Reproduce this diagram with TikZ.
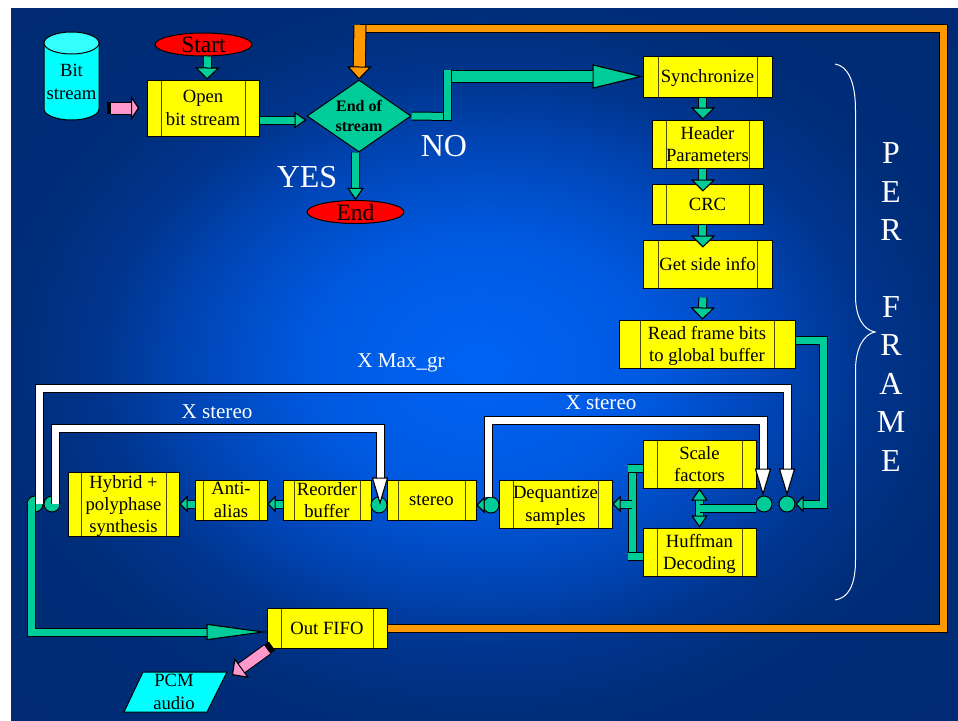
\documentclass[tikz,border=0pt]{standalone}
\usepackage{fontspec}
\setmainfont{Liberation Serif}
\usetikzlibrary{shapes.geometric,arrows.meta,positioning,calc}
\definecolor{flowgreen}{RGB}{0,204,153}
\definecolor{loopgold}{RGB}{255,153,0}
\definecolor{iopink}{RGB}{255,153,204}
\definecolor{boxyellow}{RGB}{255,255,0}
\definecolor{termred}{RGB}{255,0,0}
\definecolor{datacyan}{RGB}{0,255,255}
\definecolor{datatop}{RGB}{51,255,255}
\pgfdeclareradialshading{slideblue}{\pgfpoint{-0.25bp}{0bp}}{
  rgb(0bp)=(0,0.39,0.96);
  rgb(9bp)=(0,0.35,0.88);
  rgb(15.5bp)=(0,0.27,0.71);
  rgb(20bp)=(0,0.21,0.56);
  rgb(25bp)=(0,0.175,0.47);
  rgb(50bp)=(0,0.16,0.43)}
\newcommand{\boxfont}{\fontsize{14}{16.8}\selectfont}
\newcommand{\bigfont}{\fontsize{24}{28.8}\selectfont}

\begin{document}
\begin{tikzpicture}[
  x=0.75pt, y=-0.75pt,
  font=\boxfont,
  procbox/.style 2 args={rectangle, draw=black, line width=0.75pt, fill=boxyellow, inner sep=0pt, align=center, text depth=-2pt, minimum width=#1*0.75pt, minimum height=#2*0.75pt,
    path picture={\draw[black!70!boxyellow, line width=0.75pt]
      ([xshift=\boxinset]path picture bounding box.north west) -- ([xshift=\boxinset]path picture bounding box.south west)
      ([xshift=-\boxinset]path picture bounding box.north east) -- ([xshift=-\boxinset]path picture bounding box.south east);}},
  inset/.code={\def\boxinset{#1*0.75pt}},
  inset=14,
  endpoint/.style={ellipse, draw=black, line width=0.75pt, fill=termred, inner sep=0pt, text depth=-1pt, minimum width=97*0.75pt, minimum height=23*0.75pt, font=\fontsize{17.6}{20}\selectfont},
  decision/.style={diamond, draw=black, line width=0.75pt, fill=flowgreen, inner sep=0pt, aspect=1.44, minimum width=104*0.75pt, minimum height=72*0.75pt, align=center, font=\fontsize{12}{15}\selectfont\bfseries},
  junction/.style={circle, draw=black, line width=0.75pt, fill=flowgreen, inner sep=0pt, minimum size=16*0.75pt},
  note/.style={text=white, font=\fontsize{15.8}{19}\selectfont},
  bignote/.style={text=white, font=\bigfont},
  fatbar/.style n args={2}{draw=#2, line width=#1*0.75pt-0.75pt, line join=miter, preaction={draw=black, line width=#1*0.75pt+0.75pt}},
  fatarrow/.style n args={4}{fatbar={#1}{#2},
    -{Triangle[width=#3*0.75pt, length=#4*0.75pt, line width=0.75pt, color=black, fill=#2, sep=0pt]}},
  greenbar/.style={fatbar={8}{flowgreen}},
  greenarrow/.style={fatarrow={8}{flowgreen}{24}{12}},
  narrowarrow/.style={fatarrow={8}{flowgreen}{16}{12}},
  stubarrow/.style={fatarrow={8}{flowgreen}{16}{8}},
  longgreen/.style={fatarrow={12}{flowgreen}{24}{50}},
  slimgreen/.style={fatarrow={8}{flowgreen}{16}{60}},
  twoway/.style={fatbar={8}{flowgreen},
    {Triangle[width=12pt, length=9pt, line width=0.75pt, color=black, fill=flowgreen, sep=0pt]}-{Triangle[width=12pt, length=9pt, line width=0.75pt, color=black, fill=flowgreen, sep=0pt]}},
  whiteloop/.style={fatarrow={8}{white}{16}{27}},
  goldbar/.style={fatbar={8}{loopgold}},
  goldarrow/.style={fatarrow={12}{loopgold}{24}{13}},
  pinkarrow/.style={fatarrow={12}{iopink}{24}{8}},
  pinkslant/.style={fatarrow={11}{iopink}{24}{12}},
  pinktail/.style={draw=black, line width=12*0.75pt},
  storeface/.style={draw=black, line width=0.75pt},
]

\useasboundingbox (0,0) rectangle (958,721);
\fill[white] (0,0) rectangle (958,721);
\shade[shading=slideblue] (11,8) rectangle (958,721);

% input side
\draw[storeface, fill=datacyan] (44,43) -- (44,109) arc[start angle=180, end angle=0, x radius=27.5, y radius=11] -- (99,43) -- cycle;
\draw[storeface, fill=datatop] (71.5,43) ellipse [x radius=27.5, y radius=11];
\node[inner sep=0pt, align=center] (bits) at (71.5,82) {Bit\\stream};
\node[endpoint] (start) at (203.5,44.5) {Start};
\node[procbox={112}{56}] (open) at (203,108) {Open\\bit stream};
\node[decision] (eos) at (359,116) {End of\\stream};
\node[endpoint] (stop) at (355.5,212) {End};
\node[bignote] (no) at (444,146) {NO};
\node[bignote] (yes) at (307,177) {YES};

% per frame column
\node[procbox={129}{41}, inset=15] (sync) at (707.5,76.5) {Synchronize};
\node[procbox={111}{48}] (head) at (707.5,144) {Header\\Parameters};
\node[procbox={111}{40}] (crc) at (707.5,204) {CRC};
\node[procbox={129}{48}, inset=15] (side) at (707.5,264) {Get side info};
\node[procbox={176}{48}, inset=21] (read) at (707,344) {Read frame bits\\to global buffer};

% decode row
\node[procbox={113}{48}] (scale) at (699.5,464) {Scale\\factors};
\node[procbox={113}{48}] (huff) at (699.5,552) {Huffman\\Decoding};
\node[procbox={113}{48}] (deq) at (555.5,504) {Dequantize\\samples};
\node[procbox={89}{40}, inset=11] (stereo) at (431.5,500) {stereo};
\node[procbox={88}{40}, inset=11] (reorder) at (327,500) {Reorder\\buffer};
\node[procbox={72}{40}, inset=8] (anti) at (231,500) {Anti-\\alias};
\node[procbox={111}{64}, inset=13] (hybrid) at (123.5,504) {Hybrid +\\polyphase\\synthesis};
\node[procbox={120}{40}] (fifo) at (327,628) {Out FIFO};

\node[junction] (gr-in) at (787,504) {};
\node[junction] (ch-in) at (764,504) {};
\node[junction] (ch-out) at (491,505) {};
\node[junction] (st-out) at (379,505) {};
\node[junction] (ch-end) at (52,504) {};
\node[junction] (gr-end) at (35,504) {};

\node[note] (maxgr) at (401,363) {X Max\_gr};
\node[note] (left-st) at (217,412) {X stereo};
\node[note] (right-st) at (601,403) {X stereo};
\node[bignote, align=center] (perframe) at (891,307) {P\\E\\R\\~\\F\\R\\A\\M\\E};

% free ends of the connectors
\coordinate (bits-out) at (107,108);
\coordinate (bits-tail) at (111,108);
\coordinate (open-in) at (139,108);
\coordinate (eos-turn) at (452,116.5);
\coordinate (eos-low) at (447.5,120);
\coordinate (eos-up) at (447.5,70);
\coordinate (sync-run) at (443,76.5);
\coordinate (read-down) at (823,420);
\coordinate (loop-right) at (943.5,28.5);
\coordinate (loop-left) at (360,25);
\coordinate (dec-mid) at (632,504);
\coordinate (dec-top) at (632,464);
\coordinate (dec-low) at (632,560);
\coordinate (dec-tstub) at (628,468);
\coordinate (dec-lstub) at (628,556);
\coordinate (both-mid) at (699.5,508);
\coordinate (maxgr-top) at (400,388.5);
\coordinate (left-top) at (217,428);
\coordinate (right-top) at (600,420.5);
\coordinate (fifo-out) at (272,646);
\coordinate (pcm-in) at (232,675);

% green flow
\draw[greenarrow] ([xshift=3pt]start.south) -- ([xshift=3pt]open.north);
\draw[narrowarrow] ([yshift=-9pt]open.east) -- ([yshift=-3pt]eos.west);
\draw[narrowarrow] ([xshift=-2.6pt]eos.south) -- (stop.north);
\draw[greenbar] (eos.east) -- (eos-turn);
\draw[longgreen] (sync-run) -- (sync.west);
\draw[greenbar] (eos-low) -- (eos-up);
\draw[greenarrow] ([xshift=-3.4pt]sync.south) -- ([xshift=-3.4pt]head.north);
\draw[greenarrow] ([xshift=-3.4pt]head.south) -- ([xshift=-3.4pt,yshift=-6pt]crc.north);
\draw[greenarrow] ([xshift=-3.4pt]crc.south) -- ([xshift=-3.4pt,yshift=-6pt]side.north);
\draw[greenarrow, shorten <=9*0.75pt] ([xshift=-3.4pt]side.south) -- ([xshift=-3.4pt]read.north);
\draw[stubarrow] ([yshift=3pt]read.east) -| (read-down) |- (gr-in.east);
\draw[twoway] (scale.south) -- (huff.north);
\draw[greenbar] ([yshift=-3pt]ch-in.west) -- (both-mid);
\draw[greenbar] (dec-top) -- (dec-low);
\draw[greenbar] ([yshift=-3pt]scale.west) -- (dec-tstub);
\draw[greenbar] ([yshift=-3pt]huff.west) -- (dec-lstub);
\draw[stubarrow] (dec-mid) -- (deq.east);
\draw[stubarrow] (ch-out.west) -- ([yshift=-3.75pt]stereo.east);
\draw[stubarrow] ([yshift=-3pt]reorder.west) -- ([yshift=-3pt]anti.east);
\draw[stubarrow] ([yshift=-3pt]anti.west) -- (hybrid.east);
\draw[slimgreen] ([xshift=-3pt]gr-end.center) |- ([yshift=-3pt]fifo.west);

% white repeat loops
\draw[whiteloop] ([xshift=3pt]gr-end.center) |- (maxgr-top) -| (gr-in.north);
\draw[whiteloop] ([xshift=2.6pt]ch-end.center) |- (left-top) -| ([yshift=-6pt,xshift=0.75pt]st-out.north);
\draw[whiteloop] ([xshift=-2.25pt]ch-out.north) |- (right-top) -| ([xshift=-0.75pt]ch-in.north);

% gold return path
\draw[goldbar] (fifo.east) -| (loop-right) -- (loop-left |- loop-right);
\draw[goldarrow] (loop-left) -- (eos.north);

% pink i/o arrows
\draw[pinktail] (bits-out) -- (bits-tail);
\draw[pinkarrow] (bits-tail) -- (open-in);
\draw[pinktail, line width=8pt] (fifo-out) -- ($(fifo-out)!6*0.75pt!(pcm-in)$);
\draw[pinkslant] ($(fifo-out)!6*0.75pt!(pcm-in)$) -- (pcm-in);
\draw[draw=black, line width=0.75pt, fill=datacyan] (124,712) -- (143,672) -- (227,672) -- (207,712) -- cycle;
\node[inner sep=0pt, align=center] (pcm) at (174,692) {PCM\\audio};

% brace
\draw[white, line width=0.75pt] (835,64) .. controls (848,66) and (855.5,82) .. (855.5,110) -- (855.5,296) .. controls (855.5,318) and (864,330) .. (875,332) .. controls (864,334) and (855.5,348) .. (855.5,370) -- (855.5,560) .. controls (855.5,586) and (848,598) .. (835,600);

\end{tikzpicture}
\end{document}
